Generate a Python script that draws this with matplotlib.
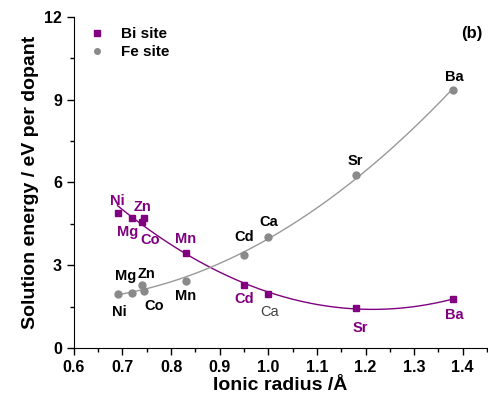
import numpy as np
import matplotlib
matplotlib.use('Agg')
import matplotlib.pyplot as plt
from matplotlib.ticker import MultipleLocator

plt.rcParams['font.family'] = ['Liberation Sans', 'DejaVu Sans']
plt.rcParams['font.weight'] = 'bold'

# ionic radius (A) and solution energies (eV per dopant)
elements = ['Ni', 'Mg', 'Zn', 'Co', 'Mn', 'Cd', 'Ca', 'Sr', 'Ba']
radius = [0.69, 0.72, 0.74, 0.745, 0.83, 0.95, 1.00, 1.18, 1.38]
bi_site = [4.88, 4.72, 4.55, 4.72, 3.43, 2.28, 1.95, 1.44, 1.78]
fe_site = [1.96, 1.98, 2.28, 2.08, 2.44, 3.37, 4.01, 6.27, 9.35]

# label offsets in pixels (dx, dy)
bi_offsets = [(0, 12), (-5, -14), (1, 15), (6, -22), (0, 14), (0, -14), (1, -18), (5, -20), (1, -16)]
fe_offsets = [(2, -18), (-7, 17), (5, 11), (10, -15), (0, -15), (0, 18), (0, 15), (0, 14), (1, 13)]

purple = '#800080'
grey = '#8a8a8a'

fig = plt.figure(figsize=(4.89, 4.05), dpi=100)
ax = fig.add_axes([0.151, 0.141, 0.845, 0.817])

# smooth fitted curves through each site
xs = np.linspace(min(radius), max(radius), 200)
bi_fit = np.polyfit(radius, bi_site, 2)
fe_fit = np.polyfit(radius, fe_site, 2)
ax.plot(xs, np.polyval(bi_fit, xs), color=purple, lw=1.0, zorder=2)
ax.plot(xs, np.polyval(fe_fit, xs), color='#999999', lw=1.0, zorder=2)

ax.plot(radius, bi_site, 's', color=purple, ms=5, ls='none', label='Bi site', zorder=3)
ax.plot(radius, fe_site, 'o', color=grey, ms=5, ls='none', label='Fe site', zorder=3)

for el, x, y, off in zip(elements, radius, bi_site, bi_offsets):
    if el == 'Ca':
        ax.annotate(el, (x, y), xytext=off, textcoords='offset pixels', ha='center', va='center',
                    color='#404040', fontsize=10.5, fontweight='normal')
    else:
        ax.annotate(el, (x, y), xytext=off, textcoords='offset pixels', ha='center', va='center',
                    color=purple, fontsize=10.5, fontweight='bold')
for el, x, y, off in zip(elements, radius, fe_site, fe_offsets):
    ax.annotate(el, (x, y), xytext=off, textcoords='offset pixels', ha='center', va='center',
                color='black', fontsize=10.5, fontweight='bold')

ax.set_xlim(0.6, 1.45)
ax.set_ylim(0, 12)
ax.xaxis.set_major_locator(MultipleLocator(0.1))
ax.xaxis.set_minor_locator(MultipleLocator(0.05))
ax.yaxis.set_major_locator(MultipleLocator(3))
ax.yaxis.set_minor_locator(MultipleLocator(1.5))
ax.xaxis.set_major_formatter(matplotlib.ticker.FormatStrFormatter('%.1f'))
ax.tick_params(which='major', direction='out', length=5, width=1, labelsize=11.5)
ax.tick_params(which='minor', direction='out', length=3, width=1)
ax.spines['top'].set_visible(False)
ax.spines['right'].set_visible(False)

ax.set_xlabel('Ionic radius /Å', fontsize=14, fontweight='bold', labelpad=2)
ax.set_ylabel('Solution energy / eV per dopant', fontsize=14, fontweight='bold', labelpad=4)

ax.legend(loc='upper left', bbox_to_anchor=(0.0, 1.01), frameon=False,
          handlelength=1.2, handletextpad=1.0, labelspacing=0.25, markerscale=0.8,
          prop={'weight': 'bold', 'size': 11})
ax.text(0.99, 0.95, '(b)', transform=ax.transAxes, ha='right', va='center',
        fontsize=12, fontweight='bold')

fig.savefig('out.png', dpi=100)
